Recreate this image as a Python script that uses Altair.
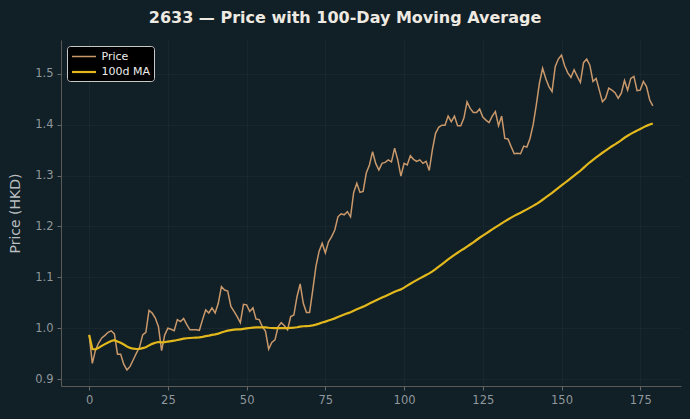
import altair as alt
import pandas as pd

days = list(range(180))
price = [
    0.987, 0.931, 0.957, 0.971, 0.981, 0.986, 0.992, 0.995, 0.989, 0.949,
    0.949, 0.929, 0.918, 0.925, 0.938, 0.951, 0.963, 0.987, 0.992, 1.035,
    1.030, 1.020, 1.003, 0.956, 0.987, 1.000, 0.998, 0.995, 1.017, 1.013,
    1.019, 1.007, 0.997, 0.997, 0.997, 0.996, 1.017, 1.036, 1.030, 1.040,
    1.030, 1.049, 1.082, 1.075, 1.073, 1.043, 1.033, 1.023, 1.011, 1.047,
    1.046, 1.033, 1.040, 1.018, 1.017, 1.003, 0.994, 0.959, 0.972, 0.977,
    1.003, 1.011, 1.005, 0.997, 1.023, 1.026, 1.062, 1.087, 1.049, 1.031,
    1.031, 1.075, 1.121, 1.151, 1.167, 1.148, 1.170, 1.180, 1.193, 1.219,
    1.225, 1.223, 1.229, 1.219, 1.267, 1.285, 1.267, 1.269, 1.305, 1.321,
    1.347, 1.324, 1.311, 1.324, 1.326, 1.331, 1.327, 1.354, 1.331, 1.299,
    1.324, 1.321, 1.339, 1.332, 1.328, 1.331, 1.324, 1.328, 1.310, 1.351,
    1.383, 1.395, 1.399, 1.399, 1.417, 1.406, 1.417, 1.398, 1.398, 1.413,
    1.445, 1.432, 1.424, 1.424, 1.431, 1.415, 1.409, 1.404, 1.417, 1.426,
    1.398, 1.417, 1.373, 1.372, 1.357, 1.343, 1.344, 1.343, 1.358, 1.356,
    1.373, 1.400, 1.439, 1.482, 1.511, 1.491, 1.475, 1.465, 1.514, 1.529,
    1.537, 1.516, 1.502, 1.493, 1.508, 1.495, 1.483, 1.522, 1.529, 1.517,
    1.485, 1.491, 1.468, 1.445, 1.452, 1.472, 1.468, 1.463, 1.452, 1.462,
    1.487, 1.468, 1.491, 1.495, 1.467, 1.468, 1.485, 1.475, 1.449, 1.437,
]
series_names = ["Price", "100d MA"]
series_colors = ["#c9986b", "#e3b81c"]
series_widths = [1.5, 2.2]
x_ticks = [0, 25, 50, 75, 100, 125, 150, 175]
y_ticks = [0.9, 1.0, 1.1, 1.2, 1.3, 1.4, 1.5]

df = pd.DataFrame({"day": days, "Price": price})

BG = "#111f26"

chart = alt.Chart(df).transform_window(
    **{"100d MA": "mean(Price)"}, frame=[-99, 0], sort=[alt.SortField("day")]
).transform_fold(
    series_names, as_=["series", "value"]
).mark_line().encode(
    x=alt.X("day:Q", scale=alt.Scale(domain=[-8.95, 187.95], nice=False, zero=False),
            axis=alt.Axis(values=x_ticks, title=None, format="d")),
    y=alt.Y("value:Q", scale=alt.Scale(domain=[0.8865, 1.5665], nice=False, zero=False),
            axis=alt.Axis(values=y_ticks, format=".1f", title="Price (HKD)")),
    color=alt.Color("series:N", scale=alt.Scale(domain=series_names, range=series_colors),
                    legend=alt.Legend(title=None)),
    strokeWidth=alt.StrokeWidth("series:N", scale=alt.Scale(domain=series_names, range=series_widths),
                                legend=None),
    detail="series:N",
).properties(
    width=620,
    height=346,
    background=BG,
    autosize=alt.AutoSizeParams(type="none"),
    padding={"left": 61, "top": 40, "right": 9, "bottom": 33},
    title=alt.TitleParams(
        "2633 — Price with 100-Day Moving Average",
        font="DejaVu Sans", fontSize=16, fontWeight="bold", color="#eeeae2",
        anchor="middle", dx=-26, offset=14,
    ),
).configure_view(
    stroke=None, fill=BG,
).configure_axis(
    labelFont="DejaVu Sans", labelFontSize=11.5, labelColor="#8f989c",
    titleFont="DejaVu Sans", titleFontSize=14, titleFontWeight="normal", titleColor="#b9bec0",
    domainColor="#5a5a58", tickColor="#6a6a68", tickSize=4,
    gridColor="#1a2a31", gridWidth=0.8,
    labelPadding=4,
).configure_axisY(
    titlePadding=12,
).configure_legend(
    orient="top-left", offset=5.5,
    fillColor="#000000", strokeColor="#c8c8c8", cornerRadius=3, padding=3.5,
    labelFont="DejaVu Sans", labelFontSize=11, labelColor="#ececec",
    symbolType="M-1,0H3", symbolSize=144, symbolStrokeWidth=2, rowPadding=3,
    labelOffset=16,
)

chart.save("out.html", embed_options={"renderer": "svg", "actions": False})
